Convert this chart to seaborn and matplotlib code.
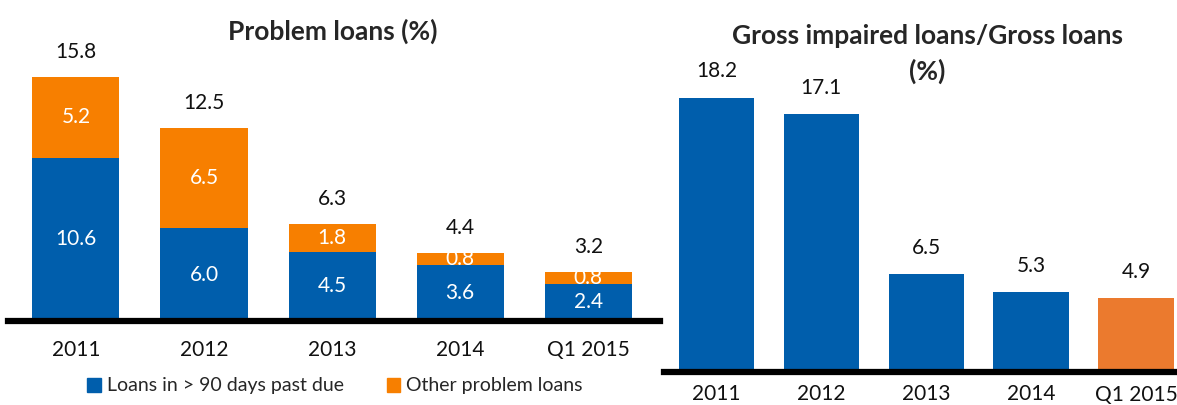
import matplotlib
matplotlib.use("Agg")
import matplotlib.pyplot as plt
from matplotlib.patches import Patch
import seaborn as sns
import pandas as pd

sns.set_theme(style="white")
plt.rcParams['font.family'] = ['Lato', 'DejaVu Sans']

categories = ["2011", "2012", "2013", "2014", "Q1 2015"]
past_due = [10.6, 6.0, 4.5, 3.6, 2.4]
other_problem = [5.2, 6.5, 1.8, 0.8, 0.8]
problem_totals = [15.8, 12.5, 6.3, 4.4, 3.2]
gross_impaired = [18.2, 17.1, 6.5, 5.3, 4.9]

BLUE = "#005EAC"
ORANGE = "#F77F00"
ORANGE2 = "#EB7A2E"

W, H = 1177, 405
fig = plt.figure(figsize=(W / 100, H / 100), dpi=100)

# ---------- Left: stacked problem loans ----------
axL = fig.add_axes([8 / W, 84 / H, 652 / W, 276 / H])
df = pd.DataFrame({"cat": categories, "past": past_due, "other": other_problem,
                   "top": [p + o for p, o in zip(past_due, other_problem)]})
sns.barplot(data=df, x="cat", y="top", color=ORANGE, saturation=1, width=0.68,
            ax=axL, edgecolor="none")
sns.barplot(data=df, x="cat", y="past", color=BLUE, saturation=1, width=0.68,
            ax=axL, edgecolor="none")
axL.set_xlim(-0.53, 4.56)
axL.set_ylim(0, 17.9)
for i in range(len(categories)):
    axL.text(i, past_due[i] / 2, f"{past_due[i]:.1f}", ha="center", va="center",
             color="white", fontsize=15)
    axL.text(i, past_due[i] + other_problem[i] / 2, f"{other_problem[i]:.1f}",
             ha="center", va="center", color="white", fontsize=15)
    axL.annotate(f"{problem_totals[i]:.1f}", (i, past_due[i] + other_problem[i]),
                 xytext=(0, 18), textcoords="offset points", ha="center",
                 va="center", fontsize=15, color="#111111")
fig.text(333 / W, 1 - 31 / H, "Problem loans (%)", ha="center", va="center",
         fontsize=19, fontweight="bold")

# ---------- Right: gross impaired loans ----------
axR = fig.add_axes([664 / W, 33 / H, 513 / W, 327 / H])
dfr = pd.DataFrame({"cat": categories, "val": gross_impaired})
sns.barplot(data=dfr, x="cat", y="val", hue="cat", legend=False,
            palette=[BLUE, BLUE, BLUE, BLUE, ORANGE2], saturation=1, width=0.72,
            ax=axR, edgecolor="none")
axR.set_xlim(-0.5, 4.39)
axR.set_ylim(0, 21.7)
for i, v in enumerate(gross_impaired):
    axR.annotate(f"{v:.1f}", (i, v), xytext=(0, 19), textcoords="offset points",
                 ha="center", va="center", fontsize=15, color="#111111")
fig.text(927 / W, 1 - 36 / H, "Gross impaired loans/Gross loans", ha="center",
         va="center", fontsize=19, fontweight="bold")
fig.text(927 / W, 1 - 71 / H, "(%)", ha="center",
         va="center", fontsize=19, fontweight="bold")

for ax, pad in ((axL, 14), (axR, 9)):
    ax.set_xlabel("")
    ax.set_ylabel("")
    ax.set_yticks([])
    for s in ("top", "left", "right"):
        ax.spines[s].set_visible(False)
    ax.spines["bottom"].set_color("black")
    ax.spines["bottom"].set_linewidth(4.5)
    ax.tick_params(axis="x", length=0, pad=pad, labelsize=15, labelcolor="#111111")
    ax.patch.set_alpha(0)

handles = [Patch(color=BLUE, label="Loans in > 90 days past due"),
           Patch(color=ORANGE, label="Other problem loans")]
fig.legend(handles=handles, loc="center", bbox_to_anchor=(335 / W, 1 - 386 / H),
           ncol=2, frameon=False, fontsize=14, handlelength=0.7, handleheight=0.7,
           handletextpad=0.3, columnspacing=2.2, borderpad=0)

fig.savefig("out.png", dpi=100)
